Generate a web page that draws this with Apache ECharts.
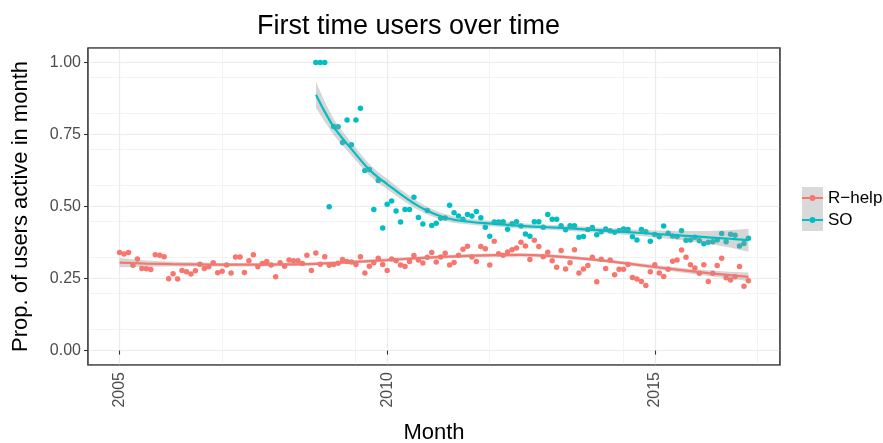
<!DOCTYPE html>
<html><head><meta charset="utf-8">
<script src="https://cdn.jsdelivr.net/npm/echarts@6/dist/echarts.min.js"></script>
<style>html,body{margin:0;padding:0;background:#fff}#c{width:883px;height:443px}</style>
</head><body><div id="c"></div>
<script>
const titleText = 'First time users over time';
const xAxisTitle = 'Month';
const yAxisTitle = 'Prop. of users active in month';
const seriesNames = ['R\u2212help', 'SO'];
const seriesColors = ['#F8766D', '#00BFC4'];
const xTickLabels = [2005, 2010, 2015];
const yTickLabels = [0, 0.25, 0.5, 0.75, 1.0];

// monthly observations
const rhelpStartMonth = '2005-01';
const rhelpValues = [
  .340,.335,.340,.296,.318,.285,.284,.281,.333,.331,.326,.249,
  .267,.248,.278,.274,.266,.277,.300,.285,.291,.305,.270,.275,
  .297,.269,.325,.325,.271,.312,.333,.291,.302,.309,.297,.256,
  .305,.293,.314,.312,.312,.302,.331,.278,.339,.300,.326,.296,
  .299,.303,.316,.309,.307,.299,.326,.269,.293,.305,.320,.299,
  .278,.318,.312,.297,.292,.309,.330,.314,.304,.324,.340,.307,
  .325,.338,.297,.306,.331,.352,.362,.325,.309,.361,.353,.297,
  .379,.336,.331,.342,.350,.356,.376,.363,.316,.383,.361,.326,
  .341,.312,.289,.347,.283,.305,.350,.269,.283,.295,.324,.239,
  .317,.285,.314,.263,.282,.282,.299,.254,.248,.240,.226,.274,
  .298,.269,.257,.282,.310,.314,.349,.324,.298,.287,.268,.298,
  .240,.268,.295,.320,.253,.245,.256,.292,.223,.242
];
const soStartMonth = '2008-09';
const soValues = [
  1.00,1.00,1.00,.499,.778,.777,.722,.800,.714,.800,.841,.625,
  .628,.490,.590,.425,.508,.519,.484,.446,.490,.490,.532,.462,
  .439,.486,.434,.442,.459,.460,.504,.478,.467,.456,.472,.467,
  .483,.461,.428,.397,.446,.446,.447,.421,.440,.447,.432,.405,
  .397,.447,.447,.428,.472,.456,.456,.433,.419,.433,.433,.393,
  .396,.420,.427,.402,.412,.422,.416,.411,.417,.422,.420,.395,
  .384,.420,.412,.379,.403,.395,.432,.407,.398,.396,.416,.383,
  .384,.393,.381,.371,.376,.378,.384,.406,.378,.404,.400,.363,
  .372,.390
];

// smoothed fits (loess) with confidence band
const rhelpFitX = [2005.0,2005.5,2006.0,2006.5,2007.0,2007.5,2008.0,2008.5,2009.0,2009.5,2010.0,2010.5,2011.0,2011.5,2012.0,2012.5,2013.0,2013.5,2014.0,2014.5,2015.0,2015.5,2016.0,2016.4,2016.75];
const rhelpFit   = [.305,.302,.300,.299,.298,.298,.299,.300,.304,.309,.314,.320,.325,.329,.331,.332,.329,.322,.313,.302,.290,.279,.269,.262,.256];
const rhelpLow   = [.289,.291,.292,.292,.292,.292,.293,.294,.298,.303,.308,.314,.319,.323,.325,.326,.323,.316,.307,.296,.283,.271,.259,.250,.241];
const rhelpHigh  = [.321,.313,.308,.306,.304,.304,.305,.306,.310,.315,.320,.326,.331,.335,.337,.338,.335,.328,.319,.308,.297,.287,.279,.274,.271];

const soFitX = [2008.67,2008.83,2009.0,2009.17,2009.33,2009.5,2009.67,2009.83,2010.0,2010.25,2010.5,2010.75,2011.0,2011.25,2011.5,2011.75,2012.0,2012.5,2013.0,2013.5,2014.0,2014.5,2015.0,2015.5,2016.0,2016.4,2016.75];
const soFit  = [.888,.830,.776,.735,.700,.662,.627,.601,.578,.543,.511,.485,.466,.454,.448,.443,.440,.433,.428,.423,.417,.411,.405,.399,.393,.388,.383];
const soLow  = [.843,.795,.748,.711,.678,.641,.607,.582,.560,.527,.496,.472,.454,.443,.438,.433,.431,.424,.419,.414,.408,.401,.393,.383,.371,.358,.343];
const soHigh = [.933,.865,.804,.759,.722,.683,.647,.620,.596,.559,.526,.498,.478,.465,.458,.453,.449,.442,.437,.432,.426,.421,.417,.415,.415,.418,.423];

function monthToYear(s, offset) {
  const [y, m] = s.split('-').map(Number);
  return y + (m - 1 + offset) / 12;
}
function toPoints(start, vals) {
  return vals.map((v, i) => [monthToYear(start, i), v]);
}
function zipXY(xs, ys) { return xs.map((x, i) => [x, ys[i]]); }

const FONT = "'Liberation Sans', Arial, Helvetica, sans-serif";

function ribbon(xs, lo, hi) {
  return {
    type: 'custom', silent: true, z: 3,
    data: zipXY(xs, lo),
    encode: { x: 0, y: 1 },
    renderItem: function (params, api) {
      if (params.dataIndex !== 0) return null;
      const pts = [];
      for (let i = 0; i < xs.length; i++) pts.push(api.coord([xs[i], hi[i]]));
      for (let i = xs.length - 1; i >= 0; i--) pts.push(api.coord([xs[i], lo[i]]));
      return { type: 'polygon', shape: { points: pts }, style: { fill: 'rgba(153,153,153,0.4)' } };
    }
  };
}

const legendIcon = 'path://M0,2 L7.5,2 L7.5,4 L0,4 Z M13.5,2 L21,2 L21,4 L13.5,4 Z M7.5,3 A3,3 0 1,0 13.5,3 A3,3 0 1,0 7.5,3 Z';

const G = { left: 88, top: 48, right: 780, bottom: 365 };

const chart = echarts.init(document.getElementById('c'), null, { renderer: 'canvas' });
const option = {
  animation: false,
  backgroundColor: '#ffffff',
  title: {
    text: titleText, left: 257, top: 13, padding: 0,
    textStyle: { fontFamily: FONT, fontSize: 27, fontWeight: 'normal', color: '#000' }
  },
  legend: {
    orient: 'vertical', left: 802, top: 187, itemGap: 0, padding: 0,
    itemWidth: 21, itemHeight: 6, z: 5,
    itemStyle: { borderWidth: 0 },
    textStyle: { fontFamily: FONT, fontSize: 17, color: '#000', lineHeight: 22 },
    data: [
      { name: seriesNames[0], icon: legendIcon },
      { name: seriesNames[1], icon: legendIcon }
    ],
    selectedMode: false
  },
  graphic: [
    { type: 'rect', z: 0, shape: { x: 802, y: 187, width: 21, height: 44 }, style: { fill: '#d9d9d9' } },
    { type: 'rect', z: 100, silent: true,
      shape: { x: G.left, y: G.top, width: G.right - G.left, height: G.bottom - G.top },
      style: { fill: null, stroke: '#333333', lineWidth: 1.2 } }
  ],
  grid: {
    left: G.left, right: 883 - G.right, top: G.top, bottom: 443 - G.bottom,
    outerBoundsMode: 'none', containLabel: false,
    show: true, borderColor: '#333333', borderWidth: 1.2, backgroundColor: '#ffffff'
  },
  xAxis: [
    {
      type: 'value', min: 2004.41, max: 2017.34, interval: 5,
      name: xAxisTitle, nameLocation: 'middle', nameGap: 57,
      nameTextStyle: { fontFamily: FONT, fontSize: 22, color: '#000' },
      axisLine: { show: false },
      axisTick: { show: true, length: 4, customValues: xTickLabels, lineStyle: { color: '#333333', width: 1.1 } },
      axisLabel: {
        customValues: xTickLabels, rotate: 90, margin: 7,
        fontFamily: FONT, fontSize: 16, color: '#4d4d4d',
        formatter: v => String(Math.round(v))
      },
      splitLine: { show: true, lineStyle: { color: '#ebebeb', width: 1.2 } }
    },
    {
      type: 'value', min: 2004.41, max: 2017.34, interval: 2.5,
      axisLine: { show: false }, axisTick: { show: false }, axisLabel: { show: false },
      splitLine: { show: true, lineStyle: { color: '#ebebeb', width: 0.6 } }
    }
  ],
  yAxis: [
    {
      type: 'value', min: -0.05, max: 1.05, interval: 0.25,
      name: yAxisTitle, nameLocation: 'middle', nameGap: 56, nameRotate: 90,
      nameTextStyle: { fontFamily: FONT, fontSize: 22, color: '#000' },
      axisLine: { show: false },
      axisTick: { show: true, length: 4, customValues: yTickLabels, lineStyle: { color: '#333333', width: 1.1 } },
      axisLabel: {
        customValues: yTickLabels, margin: 7,
        fontFamily: FONT, fontSize: 16, color: '#4d4d4d',
        formatter: v => v.toFixed(2)
      },
      splitLine: { show: true, lineStyle: { color: '#ebebeb', width: 1.2 } }
    },
    {
      type: 'value', min: -0.05, max: 1.05, interval: 0.125,
      axisLine: { show: false }, axisTick: { show: false }, axisLabel: { show: false },
      splitLine: { show: true, lineStyle: { color: '#ebebeb', width: 0.6 } }
    }
  ],
  series: [
    {
      name: seriesNames[0], type: 'scatter', z: 2, symbolSize: 5.5,
      itemStyle: { color: seriesColors[0], opacity: 1 },
      data: toPoints(rhelpStartMonth, rhelpValues)
    },
    {
      name: seriesNames[1], type: 'scatter', z: 2, symbolSize: 5.5,
      itemStyle: { color: seriesColors[1], opacity: 1 },
      data: toPoints(soStartMonth, soValues)
    },
    ribbon(rhelpFitX, rhelpLow, rhelpHigh),
    ribbon(soFitX, soLow, soHigh),
    {
      name: seriesNames[0], type: 'line', z: 4, smooth: 0.3, showSymbol: false, silent: true,
      lineStyle: { color: seriesColors[0], width: 2.2 }, itemStyle: { color: seriesColors[0] },
      data: zipXY(rhelpFitX, rhelpFit)
    },
    {
      name: seriesNames[1], type: 'line', z: 4, smooth: 0.3, showSymbol: false, silent: true,
      lineStyle: { color: seriesColors[1], width: 2.2 }, itemStyle: { color: seriesColors[1] },
      data: zipXY(soFitX, soFit)
    }
  ]
};
chart.setOption(option);
</script>
</body></html>
